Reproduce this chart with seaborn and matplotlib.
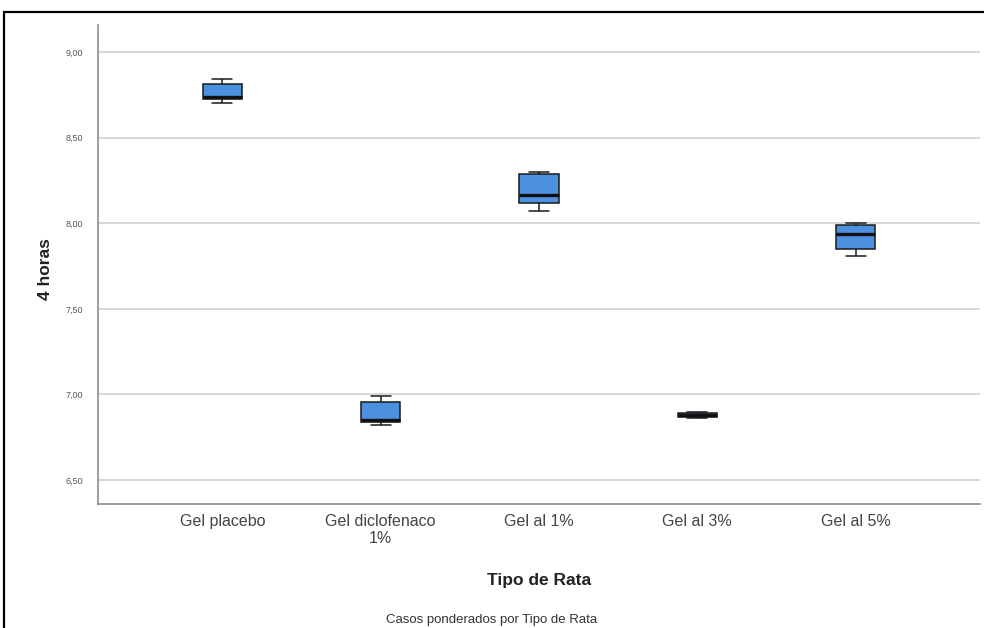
import matplotlib
matplotlib.use("Agg")
import matplotlib.pyplot as plt
import seaborn as sns
import pandas as pd
from matplotlib.patches import Rectangle

# Treatment groups (x axis)
groups = ["Gel placebo", "Gel diclofenaco\n1%", "Gel al 1%", "Gel al 3%", "Gel al 5%"]

# Paw readings at 4 hours for each group
placebo = [8.70, 8.725, 8.74, 8.815, 8.84]
diclofenaco = [6.82, 6.84, 6.85, 6.955, 6.99]
gel_1 = [8.07, 8.12, 8.165, 8.29, 8.30]
gel_3 = [6.86, 6.87, 6.88, 6.89, 6.90]
gel_5 = [7.81, 7.85, 7.94, 7.99, 8.00]

y_ticks = [6.5, 7.0, 7.5, 8.0, 8.5, 9.0]
y_tick_labels = ["6,50", "7,00", "7,50", "8,00", "8,50", "9,00"]

series = [placebo, diclofenaco, gel_1, gel_3, gel_5]
df = pd.DataFrame({
    "grupo": [g for g, vals in zip(groups, series) for _ in vals],
    "valor": [v for vals in series for v in vals],
})

sns.set_style("white")
plt.rcParams["font.family"] = ["Liberation Sans", "DejaVu Sans"]

W, H = 984, 628
fig = plt.figure(figsize=(W / 100, H / 100), dpi=100)
ax = fig.add_axes([98 / W, (H - 504) / H, (980 - 98) / W, (504 - 25) / H])

sns.boxplot(
    data=df, x="grupo", y="valor", order=groups, ax=ax,
    width=0.25, whis=(0, 100), color="#4d90e0", saturation=1,
    linecolor="#1a1a1a", linewidth=1.1,
    medianprops=dict(color="#111111", linewidth=2.4),
    zorder=3,
)

ax.set_xlim(-0.785, 4.785)
ax.set_ylim(6.36, 9.158)
ax.set_yticks(y_ticks)
ax.set_yticklabels(y_tick_labels)
ax.grid(axis="y", color="#d4d4d4", linewidth=1.3, zorder=0)
ax.set_axisbelow(True)

for side in ("top", "right"):
    ax.spines[side].set_visible(False)
for side in ("left", "bottom"):
    ax.spines[side].set_color("#8c8c8c")
    ax.spines[side].set_linewidth(1.2)

ax.tick_params(axis="y", length=0, pad=11, labelsize=6.5, labelcolor="#555555")
ax.tick_params(axis="x", length=0, pad=7, labelsize=11.5, labelcolor="#444444")

ax.set_xlabel("Tipo de Rata", fontsize=12.5, fontweight="bold", color="#222222")
ax.xaxis.label.set_va("center")
ax.xaxis.set_label_coords(0.5, (504 - 580) / 479)

ax.set_ylabel("4 horas", fontsize=12.5, fontweight="bold", color="#222222")
ax.yaxis.label.set_va("center")
ax.yaxis.set_label_coords((45 - 98) / 882, 0.49)

fig.text(0.5, 1 - 620 / H, "Casos ponderados por Tipo de Rata",
         ha="center", va="center", fontsize=9.5, color="#333333")

# Outer frame around the chart
fig.patches.append(Rectangle((4 / W, -0.2), 1.5, (H - 12) / H + 0.2,
                             transform=fig.transFigure, fill=False,
                             edgecolor="black", linewidth=1.6))

fig.savefig("out.png", dpi=100)
